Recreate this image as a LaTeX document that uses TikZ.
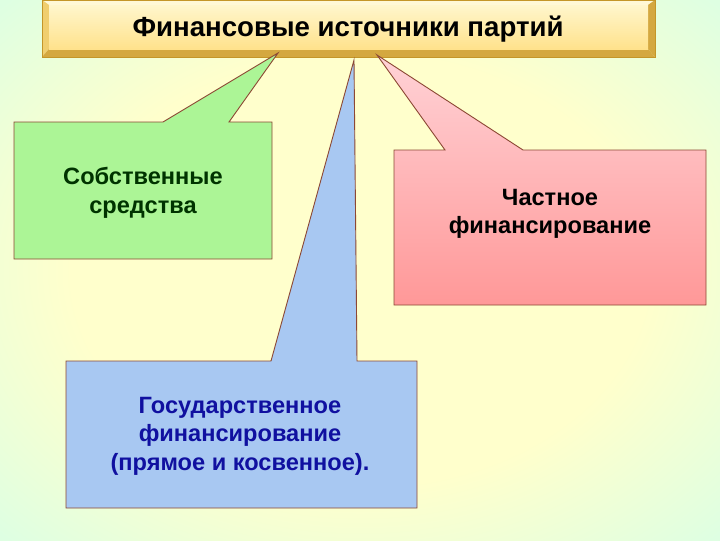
\documentclass[tikz,border=0pt]{standalone}
\usepackage{fontspec}
\setmainfont{Liberation Sans}
\usepackage{xcolor}
\usetikzlibrary{calc,positioning}
\definecolor{bgin}{RGB}{255,255,204}
\definecolor{bgout}{RGB}{222,255,226}
\definecolor{facetop}{RGB}{255,246,204}
\definecolor{facebot}{RGB}{255,226,140}
\definecolor{bevtop}{RGB}{255,248,214}
\definecolor{bevside}{RGB}{240,206,110}
\definecolor{bevdark}{RGB}{212,168,64}
\definecolor{goldline}{RGB}{196,150,40}
\definecolor{boxline}{RGB}{140,72,52}
\definecolor{greenbox}{RGB}{172,245,150}
\definecolor{greentxt}{RGB}{0,51,0}
\definecolor{pinktop}{RGB}{255,210,214}
\definecolor{pinkbot}{RGB}{255,152,152}
\definecolor{bluebox}{RGB}{168,200,242}
\definecolor{bluetxt}{RGB}{16,16,160}
\pgfdeclareradialshading{slidebg}{\pgfpoint{0bp}{0bp}}{%
  color(0bp)=(bgin); color(20bp)=(bgin); color(35bp)=(bgout); color(50bp)=(bgout)}
\tikzset{callout/.style={draw=boxline,line width=0.9pt,line join=miter},
         srcname/.style={font=\bfseries\fontsize{23.5}{28.5}\selectfont,align=center,inner sep=0pt}}
\begin{document}
\begin{tikzpicture}[x=0.35mm,y=-0.35mm]
\useasboundingbox (0,0) rectangle (720,540);
\shade[shading=slidebg] (0,0) rectangle (720,540);
% title plate with bevelled rim
\fill[bevtop] (42,0) -- (655,0) -- (648,5) -- (49,5) -- cycle;
\fill[bevside] (42,0) -- (49,5) -- (49,49) -- (42,57) -- cycle;
\fill[bevdark] (655,0) -- (655,57) -- (648,49) -- (648,5) -- cycle;
\fill[bevdark] (42,57) -- (49,49) -- (648,49) -- (655,57) -- cycle;
\shade[top color=facetop,bottom color=facebot] (49,5) rectangle (648,49);
\draw[goldline,line width=0.6pt] (42,0) rectangle (655,57);
\node[font=\bfseries\fontsize{27.5}{30}\selectfont] (title) at (348,29) {Финансовые источники партий};
% tips of the three callouts, under the plate
\coordinate (gtip) at (278,53);
\coordinate (btip) at (354,60);
\coordinate (ptip) at (377,55);
\path[callout,fill=greenbox] (14,122) -- (163,122) -- (gtip) -- (229,122)
   -- (272,122) -- (272,259) -- (14,259) -- cycle;
\path[callout,top color=pinktop,bottom color=pinkbot] (394,150) -- (445,150) -- (ptip)
   -- (523,150) -- (706,150) -- (706,305) -- (394,305) -- cycle;
\path[callout,fill=bluebox] (66,361) -- (271,361) -- (btip) -- (357,361)
   -- (417,361) -- (417,508) -- (66,508) -- cycle;
\node[srcname,text=greentxt] (own) at (143,193) {Собственные\\средства};
\node[srcname] (private) at (550,214) {Частное\\финансирование};
\node[srcname,text=bluetxt] (state) at (240,436) {Государственное\\финансирование\\(прямое и косвенное).};
\end{tikzpicture}
\end{document}
